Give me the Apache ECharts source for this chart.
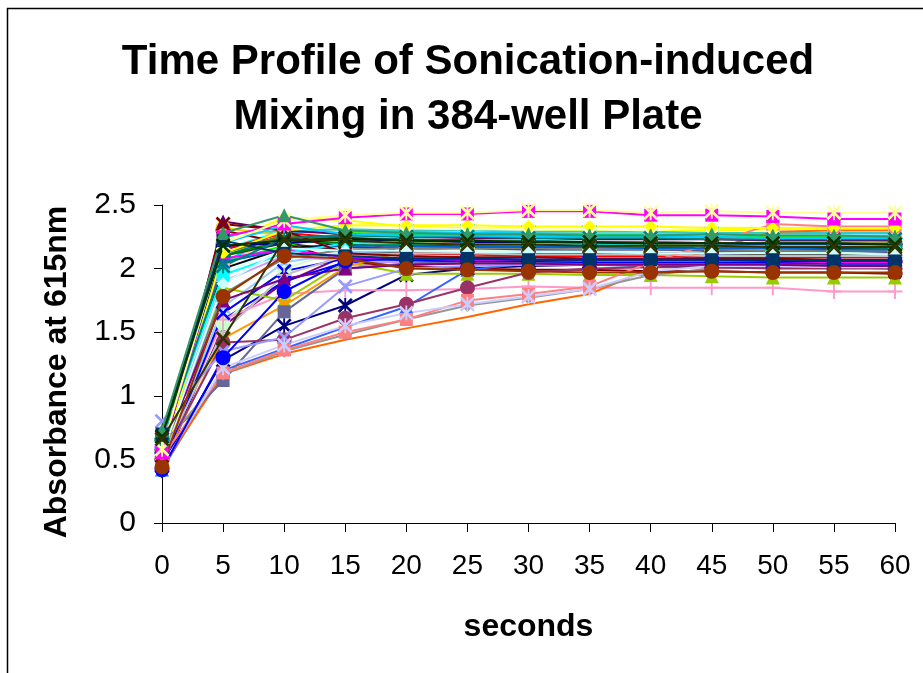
<!DOCTYPE html>
<html>
<head>
<meta charset="utf-8">
<script src="https://cdn.jsdelivr.net/npm/echarts@6/dist/echarts.min.js"></script>
<style>
html,body{margin:0;padding:0;background:#fff;}
#chart{width:923px;height:673px;}
</style>
</head>
<body>
<div id="chart"></div>
<script>
// ---- DATA ----
const seconds = [0, 5, 10, 15, 20, 25, 30, 35, 40, 45, 50, 55, 60];
const titleLines = ['Time Profile of Sonication-induced', 'Mixing in 384-well Plate'];
const xName = 'seconds';
const yName = 'Absorbance at 615nm';

const w01 = [0.45,1.28,1.55,1.71,1.95,2.00,2.02,2.03,2.02,2.02,2.01,2.01,2.00];
const w02 = [0.55,2.25,2.35,2.40,2.43,2.43,2.45,2.45,2.42,2.42,2.41,2.39,2.39];
const w03 = [0.60,2.20,2.40,2.38,2.33,2.32,2.31,2.30,2.30,2.30,2.31,2.32,2.32];
const w04 = [0.62,2.15,2.30,2.28,2.27,2.26,2.25,2.25,2.24,2.24,2.23,2.23,2.22];
const w05 = [0.50,1.55,1.89,2.10,2.12,2.12,2.11,2.11,2.10,2.10,2.10,2.09,2.09];
const w06 = [0.58,2.30,2.20,2.05,2.02,2.00,1.99,1.99,1.98,1.98,1.97,1.97,1.96];
const w07 = [0.65,2.10,2.25,2.24,2.23,2.22,2.22,2.21,2.21,2.20,2.20,2.20,2.19];
const w08 = [0.40,1.60,1.90,2.05,2.06,2.06,2.05,2.05,2.05,2.04,2.04,2.04,2.03];
const w09 = [0.55,2.05,2.28,2.30,2.29,2.28,2.28,2.27,2.27,2.27,2.26,2.26,2.26];
const w10 = [0.52,1.95,2.20,2.22,2.21,2.20,2.20,2.19,2.19,2.19,2.18,2.18,2.18];
const w11 = [0.50,1.57,2.00,2.15,2.16,2.15,2.15,2.14,2.14,2.14,2.13,2.13,2.13];
const w12 = [0.58,2.20,2.38,2.42,2.44,2.44,2.46,2.46,2.44,2.45,2.44,2.44,2.44];
const w13 = [0.48,1.70,2.05,2.12,2.13,2.13,2.12,2.12,2.12,2.11,2.11,2.11,2.10];
const w14 = [0.50,1.60,1.80,1.83,1.83,1.84,1.86,1.85,1.85,1.85,1.85,1.82,1.82];
const w15 = [0.55,1.90,2.10,2.06,2.05,2.04,2.04,2.03,2.03,2.03,2.02,2.02,2.02];
const w16 = [0.60,2.00,2.32,2.29,2.27,2.26,2.26,2.25,2.25,2.24,2.24,2.24,2.23];
const w17 = [0.42,1.20,1.37,1.54,1.70,1.99,2.04,2.05,2.05,2.05,2.04,2.04,2.04];
const w18 = [0.66,2.25,2.30,2.31,2.30,2.30,2.29,2.29,2.29,2.28,2.28,2.28,2.28];
const w19 = [0.52,1.85,1.75,2.05,1.96,1.96,1.96,1.95,1.95,1.94,1.93,1.93,1.93];
const w20 = [0.50,2.32,2.26,2.22,2.20,2.20,2.19,2.19,2.19,2.18,2.18,2.18,2.17];
const w21 = [0.47,1.45,1.71,2.01,2.14,2.17,2.17,2.18,2.18,2.18,2.18,2.17,2.17];
const w22 = [0.44,1.17,1.33,1.44,1.53,1.62,1.72,1.80,2.00,2.15,2.29,2.30,2.30];
const w23 = [0.62,1.12,1.66,2.00,2.04,2.05,2.05,2.04,2.04,2.04,2.03,2.03,2.03];
const w24 = [0.60,1.17,1.35,1.48,1.60,1.71,1.77,1.84,1.95,2.00,2.01,2.01,2.01];
const w25 = [0.70,2.22,2.12,2.10,2.08,2.08,2.07,2.07,2.07,2.07,2.07,2.06,2.06];
const w26 = [0.73,2.28,2.42,2.30,2.28,2.27,2.27,2.26,2.26,2.27,2.26,2.26,2.25];
const w27 = [0.68,2.18,2.22,2.24,2.22,2.22,2.21,2.21,2.20,2.20,2.20,2.20,2.19];
const w28 = [0.66,1.45,2.23,2.22,2.20,2.19,2.19,2.18,2.18,2.18,2.17,2.17,2.17];
const w29 = [0.44,1.78,2.10,2.08,2.00,1.99,1.98,1.97,1.97,1.98,1.97,1.97,1.97];
const w30 = [0.50,1.42,1.44,1.61,1.72,1.85,1.97,2.00,2.01,2.01,2.00,2.00,2.00];
const w31 = [0.55,2.15,2.25,2.17,2.16,2.16,2.15,2.15,2.15,2.14,2.14,2.14,2.13];
const w32 = [0.60,2.10,2.20,2.14,2.13,2.13,2.12,2.12,2.12,2.12,2.11,2.11,2.11];
const w33 = [0.65,2.00,2.16,2.19,2.18,2.18,2.17,2.17,2.17,2.17,2.16,2.16,2.16];
const w34 = [0.55,2.15,2.28,2.24,2.12,2.11,2.10,2.10,2.10,2.09,2.09,2.09,2.09];
const w35 = [0.58,2.05,2.18,2.28,2.27,2.27,2.26,2.26,2.26,2.25,2.25,2.25,2.24];
const w36 = [0.45,1.65,1.98,2.08,2.07,2.06,2.06,2.05,2.05,2.05,2.05,2.04,2.04];
const w37 = [0.62,2.12,2.26,2.23,2.22,2.22,2.21,2.21,2.21,2.20,2.20,2.20,2.20];
const w38 = [0.66,2.10,2.22,2.20,2.19,2.19,2.18,2.18,2.18,2.17,2.17,2.17,2.16];
const w39 = [0.52,1.50,1.95,2.10,2.12,2.12,2.11,2.11,2.11,2.10,2.10,2.10,2.10];
const w40 = [0.58,1.80,2.08,2.15,2.16,2.16,2.16,2.15,2.15,2.15,2.14,2.14,2.14];
const w41 = [0.80,1.35,1.46,1.86,2.00,2.02,2.03,2.03,2.03,2.03,2.02,2.02,2.02];
const w42 = [0.56,2.22,2.36,2.33,2.32,2.31,2.31,2.31,2.30,2.33,2.32,2.33,2.33];
const w43 = [0.48,2.37,2.30,2.27,2.25,2.24,2.24,2.23,2.23,2.23,2.22,2.22,2.22];
const w44 = [0.52,1.18,1.36,1.50,1.60,1.75,1.80,1.86,2.05,2.20,2.35,2.33,2.33];
const w45 = [0.60,2.05,2.15,2.18,2.18,2.17,2.17,2.17,2.16,2.16,2.16,2.15,2.15];
const w46 = [0.45,1.22,1.40,1.55,1.65,1.72,1.78,1.84,1.98,2.02,2.02,2.01,2.01];
const w47 = [0.55,2.18,2.20,2.23,2.22,2.21,2.21,2.20,2.20,2.20,2.19,2.19,2.19];
const w48 = [0.60,2.08,2.15,2.09,2.08,2.07,2.07,2.06,2.06,2.06,2.06,2.05,2.05];
const w49 = [0.50,2.12,2.30,2.34,2.34,2.34,2.33,2.33,2.33,2.32,2.32,2.32,2.32];
const w50 = [0.64,1.95,2.12,2.20,2.20,2.19,2.19,2.19,2.18,2.18,2.18,2.18,2.17];
const w51 = [0.56,1.75,1.92,2.00,2.03,2.04,2.04,2.03,2.03,2.03,2.03,2.02,2.02];
const w52 = [0.53,2.35,2.30,2.12,2.10,2.09,2.09,2.08,2.08,2.08,2.08,2.07,2.07];
const w53 = [0.62,2.02,2.24,2.26,2.25,2.25,2.24,2.24,2.24,2.23,2.23,2.23,2.23];
const w54 = [0.42,1.30,1.82,2.06,2.08,2.08,2.07,2.07,2.07,2.07,2.06,2.06,2.06];
const w55 = [0.58,2.20,2.34,2.27,2.26,2.26,2.25,2.25,2.25,2.25,2.24,2.24,2.24];
const w56 = [0.54,1.88,2.16,2.14,2.14,2.13,2.13,2.13,2.12,2.12,2.12,2.12,2.11];

const wells = [w01,w02,w03,w04,w05,w06,w07,w08,w09,w10,w11,w12,w13,w14,w15,w16,w17,w18,w19,w20,
  w21,w22,w23,w24,w25,w26,w27,w28,w29,w30,w31,w32,w33,w34,w35,w36,w37,w38,w39,w40,
  w41,w42,w43,w44,w45,w46,w47,w48,w49,w50,w51,w52,w53,w54,w55,w56];

// ---- STYLE ----
const colors = ['#000080','#FF00FF','#FFFF00','#00FFFF','#800080','#800000','#008080','#0000FF',
  '#00CCFF','#CCFFFF','#CCFFCC','#FFFF99','#99CCFF','#FF99CC','#CC99FF','#FFCC99',
  '#3366FF','#33CCCC','#99CC00','#FFCC00','#FF9900','#FF6600','#666699','#969696',
  '#003366','#339966','#003300','#333300','#993300','#993366','#333399','#333333',
  '#000000','#FF0000','#00FF00','#0000FF','#808000','#008000','#C0C0C0','#808080',
  '#9999FF','#FFFFCC','#660066','#FF8080','#0066CC','#CCCCFF','#000080','#FF00FF',
  '#FFFF00','#00FFFF','#800080','#800000','#008080','#0000FF','#00CCFF','#CCFFFF'];
const X = 'path://M2,0 L8,6 L14,0 L16,2 L10,8 L16,14 L14,16 L8,10 L2,16 L0,14 L6,8 L0,2 Z';
const PLUS = 'path://M7,0 H9 V7 H16 V9 H9 V16 H7 V9 H0 V7 H7 Z';
const STAR = 'path://M2,0 L8,6 L14,0 L16,2 L10,8 L16,14 L14,16 L8,10 L2,16 L0,14 L6,8 L0,2 Z M7,0 H9 V16 H7 Z';
const markers = [STAR,'rect','triangle',X,'diamond','circle',PLUS,'diamond',
  'rect','triangle','circle',STAR,X,PLUS,'diamond','rect',
  'triangle',X,'triangle','circle',STAR,'none','rect','diamond',
  'rect','triangle',X,X,'circle','circle',STAR,X,
  'diamond','rect','triangle',X,STAR,'circle',PLUS,'diamond',
  X,'rect','triangle','rect',X,STAR,'circle',PLUS,
  'diamond','rect','triangle',X,STAR,'circle',PLUS,'diamond'];
// series drawn above the rest (their markers dominate the plateau stack)
const onTop = [1, 11, 24, 25, 26, 27, 28];

const series = wells.map((vals, i) => {
  const sym = markers[i % markers.length];
  const isLineMark = (sym === X || sym === PLUS || sym === STAR);
  return {
    type: 'line',
    name: 'Well ' + (i + 1),
    data: seconds.map((s, k) => [s, vals[k]]),
    symbol: sym,
    symbolSize: isLineMark ? 15 : (sym === 'circle' ? 15 : (sym === 'triangle' ? 14 : 13)),
    showSymbol: sym !== 'none',
    lineStyle: { color: colors[i], width: 2 },
    itemStyle: { color: colors[i] },
    emphasis: { disabled: true },
    animation: false,
    z: onTop.indexOf(i) >= 0 ? 3 : 2
  };
});

const chart = echarts.init(document.getElementById('chart'), null, { renderer: 'canvas' });
const FONT = '"Liberation Sans", Arial, sans-serif';
chart.setOption({
  animation: false,
  backgroundColor: '#ffffff',
  grid: { left: 162, right: 28, top: 205, bottom: 150, containLabel: false },
  xAxis: {
    type: 'value', min: 0, max: 60, interval: 5,
    name: xName, nameLocation: 'middle', nameGap: 88,
    nameTextStyle: { fontSize: 32, fontWeight: 'bold', color: '#000', fontFamily: FONT },
    axisLine: { show: true, onZero: false, lineStyle: { color: '#000', width: 1 } },
    axisTick: { show: true, inside: false, length: 9, lineStyle: { color: '#000' } },
    axisLabel: { fontSize: 28, color: '#000', margin: 29, fontFamily: FONT },
    splitLine: { show: false }
  },
  yAxis: {
    type: 'value', min: 0, max: 2.5, interval: 0.5,
    axisLine: { show: true, lineStyle: { color: '#000', width: 1 } },
    axisTick: { show: true, inside: false, length: 8, lineStyle: { color: '#000' } },
    axisLabel: { fontSize: 30, color: '#000', margin: 26, fontFamily: FONT },
    splitLine: { show: false }
  },
  graphic: [
    { type: 'rect', shape: { x: 7.5, y: 8.5, width: 1200, height: 1200 },
      style: { fill: 'none', stroke: '#000', lineWidth: 1.5 }, silent: true, z: 0 },
    { type: 'text', x: 468, y: 62,
      style: { text: titleLines[0], fontSize: 42, fontWeight: 'bold', fontFamily: FONT,
               fill: '#000', textAlign: 'center', textVerticalAlign: 'middle' } },
    { type: 'text', x: 468, y: 117,
      style: { text: titleLines[1], fontSize: 42, fontWeight: 'bold', fontFamily: FONT,
               fill: '#000', textAlign: 'center', textVerticalAlign: 'middle' } },
    { type: 'text', x: 57, y: 372, rotation: Math.PI / 2,
      style: { text: yName, fontSize: 32, fontWeight: 'bold', fontFamily: FONT,
               fill: '#000', textAlign: 'center', textVerticalAlign: 'middle' } }
  ],
  series: series
});
</script>
</body>
</html>
